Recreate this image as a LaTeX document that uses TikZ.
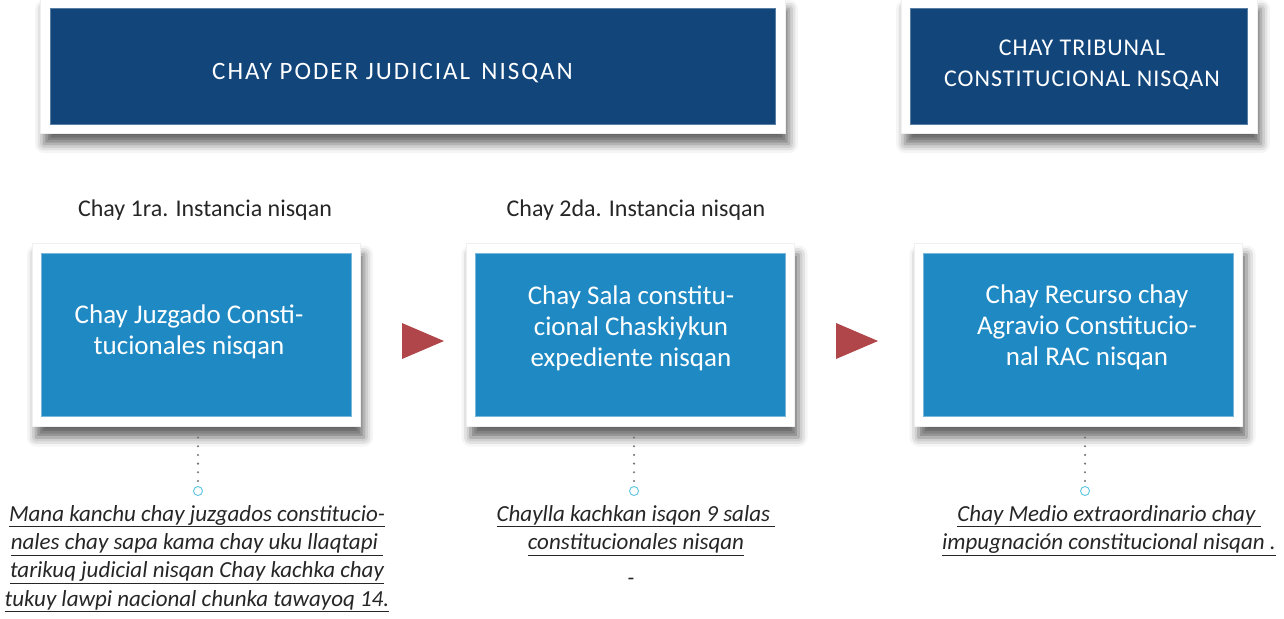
\documentclass[tikz,border=0pt]{standalone}
\usepackage{fontspec}
\setmainfont{Carlito}
\newfontfamily\widefont[LetterSpace=4]{Carlito}
\newfontfamily\widerfont[LetterSpace=8]{Carlito}
\usetikzlibrary{shadows.blur}
\definecolor{darkblue}{HTML}{12467B}
\definecolor{midblue}{HTML}{1F89C3}
\definecolor{arrowred}{HTML}{B0454A}
\definecolor{ringcyan}{HTML}{5BC4E0}
\definecolor{txtgray}{HTML}{262626}
\newcommand\ulx[1]{\underline{\vphantom{gyjp}#1}}
\tikzset{
  frame/.style={fill=white, draw=black!6, line width=0.5pt, inner sep=0pt,
    blur shadow={shadow xshift=4pt, shadow yshift=-11pt, shadow blur radius=9pt, shadow opacity=60}},
  topbox/.style={fill=darkblue, draw=darkblue!70!white, line width=0.6pt, inner sep=0pt, text=white,
    align=center, font=\widefont\fontsize{24}{31}\selectfont},
  toptext/.style={text=white, inner sep=0pt, font=\widerfont\fontsize{25}{31}\selectfont},
  midbox/.style={fill=midblue, draw=midblue!60!white, line width=0.6pt, inner sep=0pt, text=white,
    align=center, minimum width=310pt, minimum height=163pt},
  boxtext/.style={text=white, align=center, inner sep=0pt, font=\fontsize{27}{31}\selectfont},
  midframe/.style={frame, minimum width=328pt, minimum height=183pt},
  stagelabel/.style={text=txtgray, font=\fontsize{24}{28}\selectfont, inner sep=0pt},
  note/.style={text=txtgray, align=center, inner sep=0pt, font=\fontsize{23}{28.3}\selectfont\itshape},
  ring/.style={circle, draw=ringcyan, line width=0.9pt, minimum size=9pt, inner sep=0pt},
  dots/.style={draw=black!55, line width=2.3pt, line cap=round, dash pattern=on 0pt off 8.7pt},
  tri/.style={fill=arrowred}
}
\begin{document}
\begin{tikzpicture}[x=1pt,y=-1pt]
\useasboundingbox (0,0) rectangle (1284,618);
% top boxes
\node[frame, minimum width=745pt, minimum height=135pt] (f1) at (412.5,65.5) {};
\node[topbox, minimum width=725pt, minimum height=116pt] (t1) at (412.5,66) {};
\node[toptext] (t1txt) at (392.5,73) {CHAY PODER JUDICIAL\hspace{0.45em}NISQAN};
\node[frame, minimum width=356pt, minimum height=135pt] (f2) at (1079,65.5) {};
\node[topbox, minimum width=337pt, minimum height=116pt] (t2) at (1078.5,66) {};
\node[topbox, fill=none, draw=none] (t2txt) at (1082,65) {CHAY TRIBUNAL\\CONSTITUCIONAL NISQAN};
% stage labels
\node[stagelabel] (l1) at (205,210) {Chay 1ra. Instancia nisqan};
\node[stagelabel] (l2) at (636,210) {Chay 2da. Instancia nisqan};
% middle boxes
\node[midframe] (w1) at (196,335) {};
\node[midbox] (b1) at (196,334.5) {};
\node[boxtext] (b1txt) at (189,332) {Chay Juzgado Consti-\\tucionales nisqan};
\node[midframe] (w2) at (630.5,335) {};
\node[midbox] (b2) at (630.5,334.5) {};
\node[boxtext] (b2txt) at (631,328) {Chay Sala constitu-\\cional Chaskiykun\\expediente nisqan};
\node[midframe] (w3) at (1078.5,335) {};
\node[midbox] (b3) at (1078,334.5) {};
\node[boxtext] (b3txt) at (1087,327) {Chay Recurso chay\\Agravio Constitucio-\\nal RAC nisqan};
% arrows
\fill[tri] (402,323) -- (444,341) -- (402,359) -- cycle;
\fill[tri] (836,323) -- (878,341) -- (836,359) -- cycle;
% dotted connectors
\node[ring] (r1) at (198,491) {};
\node[ring] (r2) at (634,491) {};
\node[ring] (r3) at (1085,491) {};
\coordinate (d1) at (198,437.5);
\coordinate (d2) at (634,437.5);
\coordinate (d3) at (1085,437.5);
\draw[dots] (d1) -- ([yshift=5pt]r1.north);
\draw[dots] (d2) -- ([yshift=5pt]r2.north);
\draw[dots] (d3) -- ([yshift=5pt]r3.north);
% notes
\node[note, anchor=north] (n1) at (197,505) {\ulx{Mana kanchu chay juzgados constitucio-}\\\ulx{nales chay sapa kama chay uku llaqtapi\ }\\\ulx{tarikuq judicial nisqan Chay kachka chay}\\\ulx{tukuy lawpi nacional chunka tawayoq 14.}};
\node[note, anchor=north] (n2) at (636,505) {\ulx{Chaylla kachkan isqon 9 salas\ }\\\ulx{constitucionales nisqan}};
\node[note] (n3) at (631,582) {-};
\node[note, anchor=north] (n4) at (1109,505) {\ulx{Chay Medio extraordinario chay\ }\\\ulx{impugnación constitucional nisqan .}};
\end{tikzpicture}
\end{document}
